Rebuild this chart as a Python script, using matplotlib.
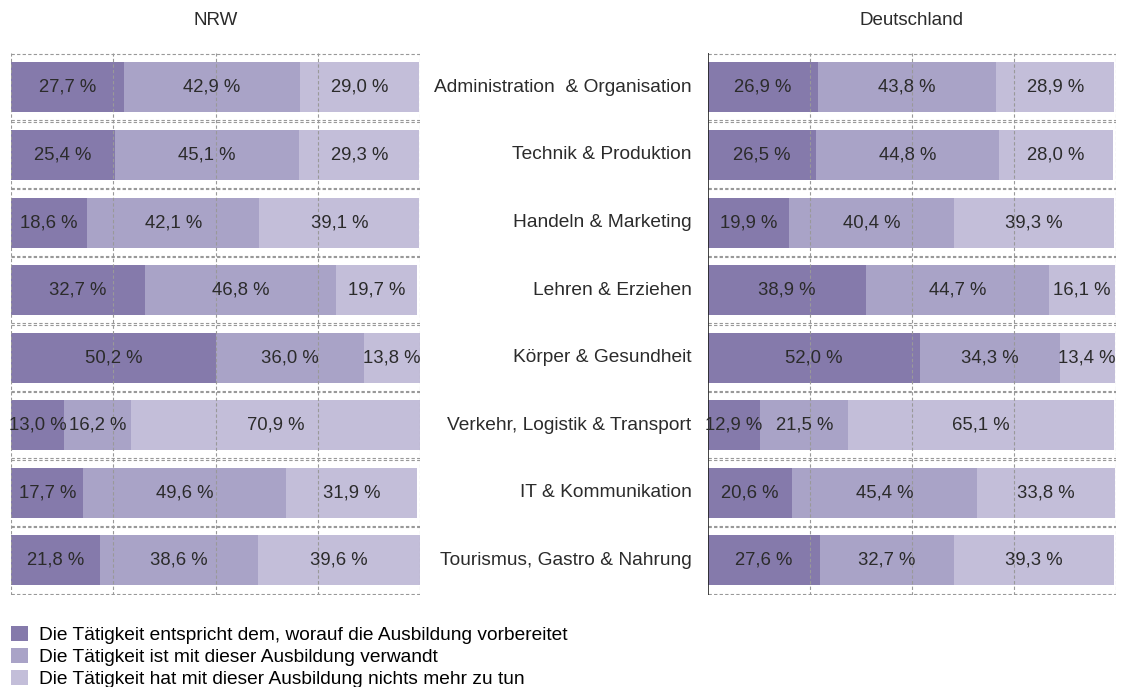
import numpy as np
import matplotlib
matplotlib.use('Agg')
import matplotlib.pyplot as plt
from matplotlib.patches import Patch

plt.rcParams['font.family'] = ['Liberation Sans', 'DejaVu Sans']

categories = ["Administration  & Organisation", "Technik & Produktion",
              "Handeln & Marketing", "Lehren & Erziehen",
              "Körper & Gesundheit", "Verkehr, Logistik & Transport",
              "IT & Kommunikation", "Tourismus, Gastro & Nahrung"]

# NRW
nrw_entspricht = [27.7, 25.4, 18.6, 32.7, 50.2, 13.0, 17.7, 21.8]
nrw_verwandt = [42.9, 45.1, 42.1, 46.8, 36.0, 16.2, 49.6, 38.6]
nrw_nichts = [29.0, 29.3, 39.1, 19.7, 13.8, 70.9, 31.9, 39.6]

# Deutschland
de_entspricht = [26.9, 26.5, 19.9, 38.9, 52.0, 12.9, 20.6, 27.6]
de_verwandt = [43.8, 44.8, 40.4, 44.7, 34.3, 21.5, 45.4, 32.7]
de_nichts = [28.9, 28.0, 39.3, 16.1, 13.4, 65.1, 33.8, 39.3]

legend_labels = ["Die Tätigkeit entspricht dem, worauf die Ausbildung vorbereitet",
                 "Die Tätigkeit ist mit dieser Ausbildung verwandt",
                 "Die Tätigkeit hat mit dieser Ausbildung nichts mehr zu tun"]
colors = ['#857aab', '#a9a3c7', '#c3bed9']
text_color = '#2b2b2b'

fig = plt.figure(figsize=(11.27, 6.87), dpi=100)
ax_l = fig.add_axes([0.0098, 0.134, 0.363, 0.789])
ax_r = fig.add_axes([0.628, 0.134, 0.362, 0.789])


def draw_panel(ax, series, title, solid_left=False):
    y = np.arange(len(categories))
    left = np.zeros(len(categories))
    for vals, col in zip(series, colors):
        vals = np.array(vals)
        ax.barh(y, vals, left=left, height=0.74, color=col, zorder=1)
        for yi, l, v in zip(y, left, vals):
            ax.text(l + v / 2, yi, "{:.1f} %".format(v).replace('.', ','),
                    ha='center', va='center', fontsize=13.3, color=text_color, zorder=3)
        left = left + vals

    # dashed frame around each row
    for yi in y:
        for off in (-0.49, 0.49):
            ax.axhline(yi + off, color='#999999', lw=0.8, ls=(0, (3, 2)), zorder=2)
    for xv in (0, 25, 50, 75, 100):
        if xv == 0 and solid_left:
            ax.axvline(xv, color='#222222', lw=1.2, zorder=2)
        else:
            ax.axvline(xv, color='#999999', lw=0.8, ls=(0, (3, 2)), zorder=2)

    ax.set_xlim(0, 100)
    ax.set_ylim(len(categories) - 0.49, -0.51)
    ax.axis('off')
    ax.set_title(title, fontsize=13.5, color=text_color, pad=20)


draw_panel(ax_l, [nrw_entspricht, nrw_verwandt, nrw_nichts], "NRW")
draw_panel(ax_r, [de_entspricht, de_verwandt, de_nichts], "Deutschland", solid_left=True)

# category labels between the two panels
for i, cat in enumerate(categories):
    ax_r.text(-4, i, cat, ha='right', va='center', fontsize=13.8,
              color=text_color, clip_on=False)

handles = [Patch(facecolor=c, edgecolor='none') for c in colors]
fig.legend(handles, legend_labels, loc='upper left', bbox_to_anchor=(0.010, 0.089),
           frameon=False, fontsize=13.8, handlelength=0.85, handleheight=0.85,
           handletextpad=0.6, labelspacing=0.2, borderaxespad=0, borderpad=0)

fig.savefig('out.png', dpi=100)
